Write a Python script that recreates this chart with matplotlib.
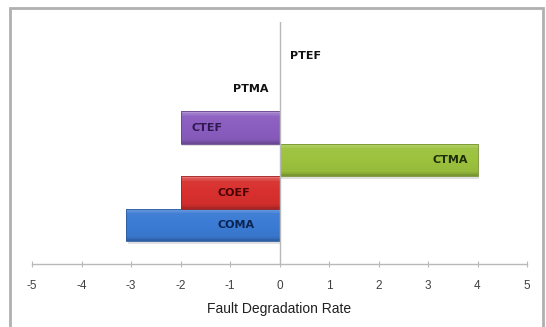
import matplotlib
matplotlib.use("Agg")
import matplotlib.pyplot as plt
import numpy as np
from matplotlib.colors import to_rgb
from matplotlib.patches import Rectangle

# Data
categories = ["COMA", "COEF", "CTMA", "CTEF", "PTMA", "PTEF"]
rates = [-3.1, -2.0, 4.0, -2.0, 0.0, 0.0]
label_x = [-0.88, -0.92, 3.45, -1.47, -0.58, 0.53]
tick_values = [-5, -4, -3, -2, -1, 0, 1, 2, 3, 4, 5]

bar_colors = ["#3b7bd4", "#d8302e", "#9cc23e", "#8a5dbf", "#808080", "#808080"]
text_colors = ["#0c2452", "#480404", "#1e2e08", "#2e1a50", "#111111", "#111111"]

fig = plt.figure(figsize=(5.46, 3.27), dpi=100)
fig.patch.set_facecolor("white")

# Outer chart frame
frame = Rectangle((9.5 / 546, -0.05), (543 - 9.5) / 546, 1.05 - 7.5 / 327,
                  transform=fig.transFigure, fill=False,
                  edgecolor="#b0b0b0", linewidth=2.0)
fig.patches.append(frame)

ax = fig.add_axes([32 / 546, 1 - 264 / 327, (527 - 32) / 546, (264 - 22) / 327])
ax.set_facecolor("white")


def shade(c, f):
    r = np.array(to_rgb(c))
    if f >= 0:
        return r + (1 - r) * f
    return r * (1 + f)


height = 1.0
for i, (v, col) in enumerate(zip(rates, bar_colors)):
    if v == 0:
        continue
    x0 = min(0, v)
    w = abs(v)
    y0 = i - height / 2
    # soft drop shadow
    ax.add_patch(Rectangle((x0 + 0.04, y0 - 0.07), w, height,
                           facecolor="#cccccc", edgecolor="none",
                           alpha=0.6, zorder=1))
    # vertical gradient fill (bevel look): row 0 is the top edge
    n = 64
    grad = np.empty((n, 2, 3))
    for k in range(n):
        tt = k / (n - 1)
        if tt < 0.06:
            c = shade(col, 0.35)
        elif tt < 0.14:
            c = shade(col, 0.15)
        elif tt > 0.94:
            c = shade(col, -0.22)
        elif tt > 0.88:
            c = shade(col, -0.1)
        else:
            c = shade(col, 0.04 - 0.08 * (tt - 0.14) / 0.74)
        grad[k, :, :] = c
    patch = Rectangle((x0, y0), w, height, facecolor="none",
                      edgecolor="none", zorder=2)
    ax.add_patch(patch)
    im = ax.imshow(grad, extent=(x0, x0 + w, y0, y0 + height),
                   aspect="auto", origin="upper", zorder=2,
                   interpolation="bilinear")
    im.set_clip_path(patch)
    ax.add_patch(Rectangle((x0, y0), w, height, facecolor="none",
                           edgecolor=shade(col, -0.25), linewidth=0.6,
                           zorder=3))

ax.set_xlim(-5, 5)
ax.set_ylim(-1.2, 6.25)

for i, (name, lx, tc) in enumerate(zip(categories, label_x, text_colors)):
    dy = 0.2 if rates[i] == 0 else 0.0
    ax.text(lx, i + dy, name, ha="center", va="center", fontsize=8,
            fontweight="bold", color=tc, family="DejaVu Sans", zorder=4)

# Axes lines
for s in ["top", "right", "left"]:
    ax.spines[s].set_visible(False)
ax.spines["bottom"].set_color("#b8b8b8")
ax.spines["bottom"].set_linewidth(1.0)
ax.axvline(0, color="#b8b8b8", linewidth=1.0, zorder=5)

ax.set_yticks([])
ax.set_xticks(tick_values)
ax.set_xticklabels([str(t) for t in tick_values], fontsize=8.5,
                   color="#404040", family="Liberation Sans")
ax.tick_params(axis="x", direction="inout", length=5, width=0.8,
               color="#b8b8b8", pad=9)
ax.set_xlabel("Fault Degradation Rate", fontsize=10, color="#202020",
              family="Liberation Sans", labelpad=7)

fig.savefig("out.png", dpi=100)
